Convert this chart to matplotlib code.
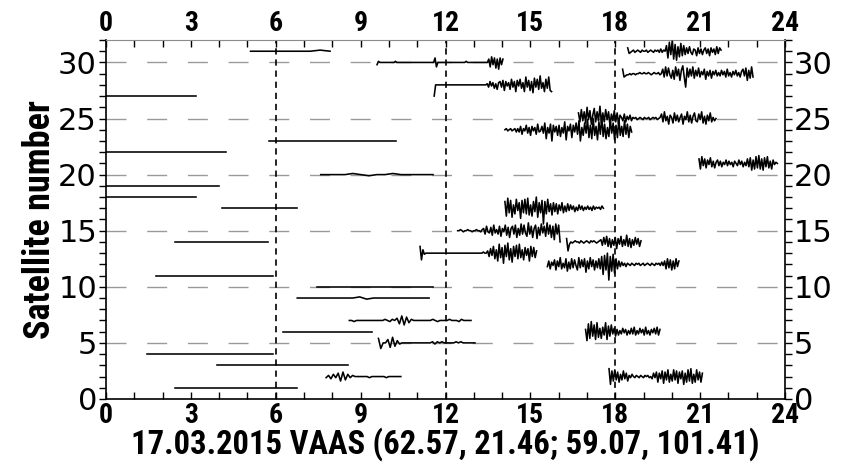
import matplotlib
matplotlib.use("Agg")
import matplotlib.pyplot as plt
from matplotlib import font_manager as fm
from matplotlib.ticker import MultipleLocator
import numpy as np

# GPS passes over the station: PRN, first/last epoch (UT, hours) and the
# filtered TEC series, sampled evenly over the pass, in units of 0.1
sat_ids = [31, 27, 23, 22, 20, 19, 18, 17, 14, 11, 10, 9, 6, 4, 3, 1,
           30, 28, 13, 7, 5, 2,
           24, 25, 31, 29, 21, 17, 15, 14, 12, 6, 2]
t_start = [5.11, 0.0, 5.77, 0.0, 7.59, 0.0, 0.0, 4.09, 2.44, 1.77, 7.45, 6.76, 6.27, 1.44, 3.94, 2.44,
           9.58, 11.6, 11.1, 8.6, 9.63, 7.78,
           14.1, 16.7, 18.44, 18.26, 20.96, 14.1, 12.43, 16.28, 15.6, 16.95, 17.78]
t_end = [7.92, 3.17, 10.24, 4.24, 11.56, 3.99, 3.17, 6.74, 5.74, 5.91, 11.57, 11.42, 9.41, 5.89, 8.57, 6.74,
         14.03, 15.75, 15.22, 12.9, 13.04, 10.42,
         18.58, 21.56, 21.74, 22.87, 23.73, 17.58, 16.05, 18.91, 20.25, 19.58, 21.08]
tec_dev = [
    "0 0 0 0 0 0 0 1 0",
    "0 0 0 0 0 0 0",
    "0 0 0 0 0 0 0 0 0",
    "0 0 0 0 0 0",
    "0 0 0 0 1 0 -1 0 0 1 0 0 0 0 0",
    "0 0 0 0 0",
    "0 0 0 0 0",
    "0 0 0 0 0",
    "0 0 0 0 0",
    "0 0 0 0 0",
    "0 0 0 0 0",
    "0 0 0 0 0 0 0 0 0 1 -1 0 0 0 0 0 0 0 0 0",
    "0 0 0 0 0",
    "0 0 0 0 0 0",
    "0 0 0 0 0 0",
    "0 0 0 0 0 0",
    # PRN 30
    "-2 1 0 0 0 0 0 0 0 0 0 0 0 1 0 0 0 0 0 0 0 0 0 0 0 0 0 0 0 0 0 0 0 0 0 0 0 0 0 0 0 "
    "4 -4 0 0 0 0 0 0 0 0 0 0 0 0 0 0 0 0 0 0 0 0 1 0 0 0 0 0 0 0 0 0 0 0 0 0 0 0 "
    "3 -4 5 -2 4 -5 3 -6 4 -2 3",
    # PRN 28
    "-10 0 0 0 0 0 0 0 0 0 0 0 0 0 0 0 0 0 0 0 0 0 0 0 0 0 0 0 0 0 0 0 0 0 0 0 0 "
    "1 -2 3 -1 2 -3 1 -4 2 3 -2 4 -5 3 -1 2 -4 5 -2 3 -6 4 -1 5 -3 2 -6 7 -2 4 -5 3 -7 6 -2 5 -4 8 "
    "-3 2 -6 5 -3 7 -5 -6",
    # PRN 13
    "6 -6 3 -1 0 0 0 0 0 0 0 0 0 0 0 0 0 0 0 0 0 0 0 0 0 0 0 0 0 0 0 0 0 0 0 0 0 0 0 0 0 0 0 0 1 0 0 "
    "2 -3 4 -2 6 -5 3 -7 8 -4 5 -9 7 -3 9 -6 4 -8 6 -3 7 -5 8 -4 3 -6 5 -2 4 -7 6 -3 5 -4 2",
    # PRN 7, 5, 2
    "0 0 -1 0 0 0 0 0 0 0 0 0 0 0 0 1 0 -1 1 0 2 -3 4 -4 3 -2 1 0 0 0 0 0 0 0 0 1 0 -1 0 0 0 0 1 0 0 "
    "0 -1 1 0 0 0 0",
    "4 -5 0 0 3 -4 5 -3 2 -1 0 0 0 0 0 0 0 0 0 0 0 0 0 1 -1 1 0 1 0 0 0 0 0 1 0 1 0 0 0 0 0 0",
    "-1 1 -2 2 -1 3 -4 4 -3 2 -1 1 0 0 0 0 0 0 -1 0 0 0 0 0 0 -1 0 0 0 0 0 0",
    # PRN 24
    "0 1 -1 0 1 -1 0 1 -2 1 "
    "-2 3 -4 1 -1 4 -3 2 -5 3 -1 2 -4 5 -2 -1 3 -3 "
    "6 -8 2 -3 5 -10 4 -2 3 -5 "
    "4 -6 2 -3 7 -9 3 -1 5 -7 4 -2 6 -4 8 -10 2 -5 6 -3 "
    "9 -7 4 -8 10 -5 3 -9 7 -4 11 -6 5 -8 2 -6 9 -3 6 -9 4 -7 10 -5 3 -6 8 -4 5 -7 3 -2",
    # PRN 25
    "5 -3 8 -2 6 -4 10 -1 7 -5 3 9 -3 6 -2 11 -4 5 -3 8 -1 6 -6 4 -2 7 -3 5 -5 3 1 -2 4 -3 2 -1 3 -2 "
    "1 0 1 -1 0 1 0 -1 1 0 0 1 -1 0 1 0 1 -1 0 1 "
    "4 -3 6 -2 2 -5 3 1 -4 5 -2 3 -3 1 4 -5 2 -1 6 -3 3 -4 2 5 -2 -3 4 -1 6 -4 2 -5 3 -2 5 -3 1 -2 0",
    # PRN 31, second pass
    "3 -2 -1 0 1 -1 0 1 0 -1 1 0 0 1 -1 0 1 0 -1 1 0 1 -1 2 -1 1 0 "
    "5 -6 8 -3 9 -7 6 -8 4 -5 7 -4 5 -3 "
    "3 -2 4 -1 -3 2 1 -4 3 -2 2 -3 1 3 -2 2 -4 3 -1 2 -3 4 -2 3 1",
    # PRN 29
    "4 -3 -2 -1 -1 0 -1 0 0 -1 0 0 1 0 0 1 0 0 1 0 -1 0 1 0 0 1 -1 0 "
    "4 -3 6 -2 5 -1 -4 3 -5 6 -2 4 -6 3 7 -3 -12 5 -3 4 -2 6 -4 3 -2 5 -3 2 -1 4 -5 2 -2 3 -4 2 -1 3 "
    "-2 1 -2 3 -1 2 -3 4 -2 1 -3 2 -1 3 -2 1 -3 2 4 -2 5 -6 3 -4 6 -3",
    # PRN 21
    "4 -5 6 -2 4 -4 3 -1 5 -3 2 -4 1 3 -2 2 -3 1 -1 3 -2 2 -1 1 -3 2 0 -2 3 -1 2 -3 1 -2 4 -3 5 -6 3 "
    "-5 6 -4 7 -5 4 -6 5 -3 6 -4 2 -5 3 -1 1 0",
    # PRN 17, second pass
    "6 -7 9 -4 7 -8 3 -5 8 -2 5 -9 7 -4 8 -5 9 -6 3 -7 6 -3 10 -8 5 -4 7 -14 6 -5 8 -3 4 -6 5 -3 4 -5 "
    "3 -2 5 -4 2 -3 4 -2 3 -1 2 -3 1 -2 3 -1 2 -2 1 -1 2 -1 1 -2 2 -1 1 0 1 -1 2 0",
    # PRN 15
    "0 0 1 0 -1 0 0 1 0 0 -1 0 0 1 0 0 -1 1 "
    "2 -3 4 -1 -2 3 -4 5 -2 1 -3 4 -5 2 -1 5 -4 3 -6 2 4 -3 5 -6 2 -4 6 -3 5 -2 -5 7 -3 4 -6 2 5 -7 "
    "3 -4 6 -2 4 -5 7 -3 5 -6 4 -8 6 -3 5 -10",
    # PRN 14, second pass
    "3 -8 -2 0 -1 0 1 0 0 -1 1 0 -1 0 1 0 -1 1 0 1 0 -1 0 1 "
    "2 -3 4 -2 5 -4 3 -5 2 -3 4 -6 3 -2 5 -4 2 -3 6 -4 3 -5 2 -3 4 -2 3 -4 1",
    # PRN 12
    "-2 3 -4 2 -1 4 -5 3 -2 6 -4 1 -3 5 -6 2 -4 5 -3 4 -1 -5 6 -3 4 -2 5 -7 3 -4 6 -2 4 -5 3 -3 5 -4 "
    "7 -9 8 -5 10 -14 7 -6 9 -8 5 -4 "
    "3 -2 2 -1 1 -2 1 0 -1 1 0 -1 1 0 1 -1 0 1 -1 0 1 0 -1 1 0 -1 1 0 1 -1 2 -1 "
    "3 -4 5 -3 4 -5 3 -4 5 -2 3",
    # PRN 6, second pass
    "2 -8 7 -6 9 -4 6 -7 8 -5 3 -6 4 -3 8 -7 5 -4 6 -2 3 -4 2 -3 1 -2 3 -1 2 -3 1 -2 3 -2 4 -3 1 -2 "
    "3 -1 2 -3 4 -2 1 -3 2 -1 3 -2 4 -3 2",
    # PRN 2, second pass
    "7 -7 5 -4 6 -3 4 -5 2 -3 5 -2 3 -4 1 -1 2 0 -1 1 0 -1 1 0 -1 1 0 1 -1 0 "
    "-2 3 -1 4 -5 3 -2 5 -6 4 -3 6 -5 2 -4 6 -3 5 -6 4 -2 5 -7 3 -5 6 -4 7 -6 2 -5 6 -3 4 -5 3",
]

x_ticks = [0, 3, 6, 9, 12, 15, 18, 21, 24]
y_ticks = [0, 5, 10, 15, 20, 25, 30]
title = "17.03.2015 VAAS (62.57, 21.46; 59.07, 101.41)"


def narrow_bold_font():
    # prefer a real narrow/condensed bold face if one is installed
    for fam in ["Liberation Sans Narrow", "Arial Narrow", "Roboto Condensed",
                "Open Sans Condensed", "Noto Sans", "DejaVu Sans"]:
        try:
            path = fm.findfont(fm.FontProperties(family=fam, weight="bold", stretch="condensed"),
                               fallback_to_default=False)
        except ValueError:
            continue
        if "narrow" in path.lower() or "cond" in path.lower():
            return path
    return None


nb_path = narrow_bold_font()


def nb(size):
    if nb_path:
        return fm.FontProperties(fname=nb_path, size=size)
    return fm.FontProperties(family="Liberation Sans", weight="bold", size=size)


plt.rcParams["lines.scale_dashes"] = False

fig = plt.figure(figsize=(8.46, 4.62), dpi=100)
ax = fig.add_axes([0.1253, 0.1364, 0.8026, 0.777])

for sat, t0, t1, dev in zip(sat_ids, t_start, t_end, tec_dev):
    vals = np.array(dev.split(), dtype=float) / 10.0
    t = np.linspace(t0, t1, len(vals))
    ax.plot(t, sat + vals, color="black", lw=1.15, zorder=3)

# reference grid: grey dashes every 5 PRN, black dashes every 6 hours
for y in y_ticks[1:]:
    ax.axhline(y, color="#9a9a9a", lw=1.0, dashes=(14.4, 14.9), zorder=1)
for x in (6, 12, 18):
    ax.axvline(x, color="black", lw=1.2, dashes=(4.5, 3.5), zorder=2)

ax.set_xlim(0, 24)
ax.set_ylim(0, 32)
ax.set_xticks(x_ticks, [str(v) for v in x_ticks], fontproperties=nb(20))
ax.set_yticks(y_ticks, [str(v) for v in y_ticks], fontsize=22, family="DejaVu Sans")
ax.xaxis.set_minor_locator(MultipleLocator(1))
ax.yaxis.set_minor_locator(MultipleLocator(1))
ax.tick_params(axis="x", which="both", direction="in", length=5, width=1,
               top=True, labeltop=True, pad=2)
ax.tick_params(axis="y", which="both", direction="out", length=5, width=1,
               right=True, labelright=True, pad=1.5)
for side in ("left", "right", "bottom"):
    ax.spines[side].set_linewidth(1.2)
ax.spines["top"].set_color("#8c8c8c")

ax.set_ylabel("Satellite number", fontproperties=nb(26), labelpad=0)
ax.set_xlabel(title, fontproperties=nb(23.5), labelpad=-1)

fig.savefig("out.png", dpi=100)
